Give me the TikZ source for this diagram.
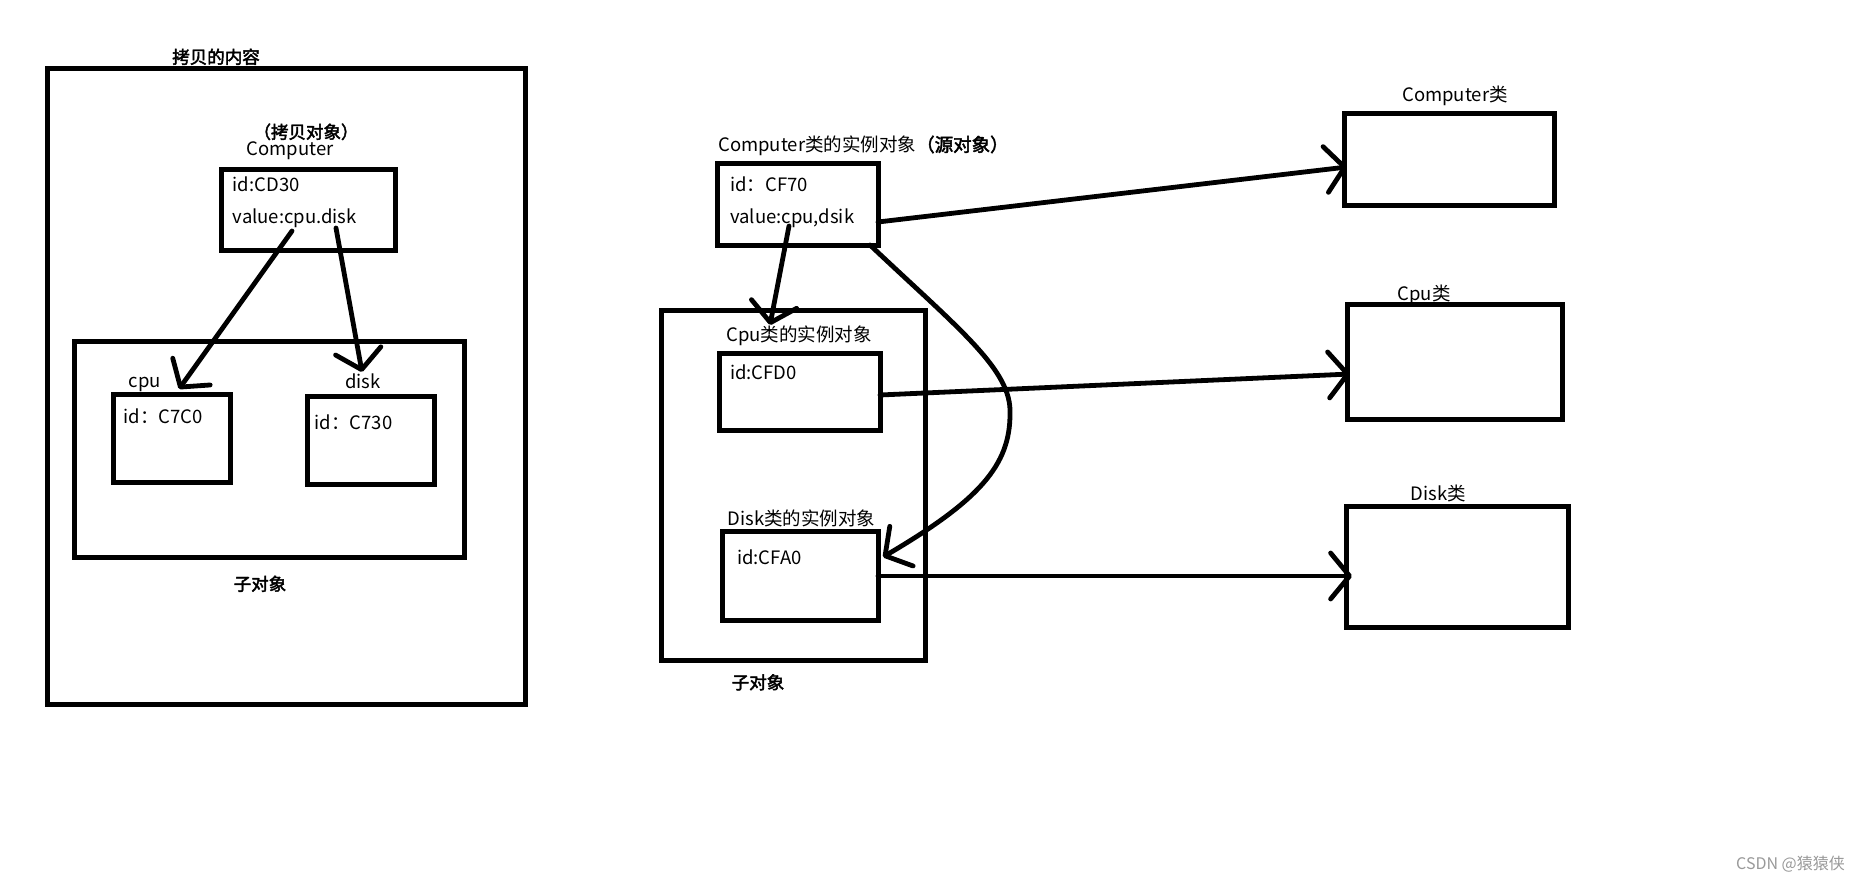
\documentclass[tikz,border=0pt]{standalone}
\usepackage{fontspec}
\setmainfont{Noto Sans CJK SC}[AutoFakeBold=2.5]
\usetikzlibrary{arrows.meta}
\tikzset{
  box/.style={draw, line width=5pt, inner sep=0pt},
  arr/.style={line width=4.8pt, line cap=round, -{Straight Barb[length=19pt,width=46pt,round]}},
  lbl/.style={inner sep=0pt, font=\fontsize{18.5}{20}\selectfont},
  blbl/.style={inner sep=0pt, font=\fontsize{17.5}{20}\selectfont\bfseries},
}
\begin{document}
\begin{tikzpicture}[x=1pt,y=-1pt]
\useasboundingbox (0,0) rectangle (1861,883);
% ---------- left: copy ----------
\node[box, minimum width=478pt, minimum height=635pt] (outer) at (286,386.5) {};
\node[blbl, anchor=base] (tcopy) at (216,63.5) {拷贝的内容};
\node[blbl, anchor=base] (tcopyobj) at (306,138.5) {（拷贝对象）};
\node[lbl, anchor=base] (tcomp) at (290,155) {Computer};
\node[box, minimum width=174pt, minimum height=81pt] (compL) at (308,209.5) {};
\node[lbl, anchor=base west] (idL) at (232.6,191.5) {id:CD30};
\node[lbl, anchor=base west] (valL) at (232.6,223.5) {value:cpu.disk};
\node[box, minimum width=390pt, minimum height=216pt] (childL) at (269,449) {};
\node[lbl, anchor=base] (tcpuL) at (144.8,387) {cpu};
\node[box, minimum width=117pt, minimum height=88pt] (cpuL) at (171.5,438) {};
\node[lbl, anchor=base west] (idcpuL) at (123.4,423) {id：C7C0};
\node[lbl, anchor=base] (tdiskL) at (363,388) {disk};
\node[box, minimum width=127pt, minimum height=88pt] (diskL) at (370.5,440) {};
\node[lbl, anchor=base west] (iddiskL) at (314.5,429) {id：C730};
\node[blbl, anchor=base] (tsubL) at (260,590.5) {子对象};
\coordinate (l1s) at (292,231);
\coordinate (l1e) at (179,389);
\coordinate (l2s) at (336,228);
\coordinate (l2e) at (362,372);
\draw[arr] (l1s) -- (l1e);
\draw[arr] (l2s) -- (l2e);
% ---------- right: source ----------
\node[lbl, anchor=base west] (tsrc) at (718,151.5) {Computer类的实例对象\textbf{（源对象）}};
\node[box, minimum width=161pt, minimum height=82pt] (src) at (797.5,204) {};
\node[lbl, anchor=base west] (idsrc) at (730,191.5) {id：CF70};
\node[lbl, anchor=base west] (valsrc) at (730,223.5) {value:cpu,dsik};
\node[box, minimum width=264pt, minimum height=350pt] (childR) at (793,485) {};
\node[lbl, anchor=base west] (tcpuR) at (726,341) {Cpu类的实例对象};
\node[box, minimum width=161pt, minimum height=77pt] (cpuR) at (799.5,391.5) {};
\node[lbl, anchor=base west] (idcpuR) at (730,379) {id:CFD0};
\node[lbl, anchor=base west] (tdiskR) at (727.6,525) {Disk类的实例对象};
\node[box, minimum width=156pt, minimum height=89pt] (diskR) at (800,575.5) {};
\node[lbl, anchor=base west] (iddiskR) at (737,564) {id:CFA0};
\node[blbl, anchor=base] (tsubR) at (758,689) {子对象};
% ---------- classes ----------
\node[lbl, anchor=base] (tcls1) at (1455,101.5) {Computer类};
\node[box, minimum width=210pt, minimum height=92pt] (clsComp) at (1449,159) {};
\node[lbl, anchor=base] (tcls2) at (1424,300.5) {Cpu类};
\node[box, minimum width=215pt, minimum height=115pt] (clsCpu) at (1454.5,361.5) {};
\node[lbl, anchor=base] (tcls3) at (1438.5,500) {Disk类};
\node[box, minimum width=222pt, minimum height=121pt] (clsDisk) at (1457,566.5) {};
% ---------- right arrows ----------
\coordinate (r0s) at (878,222);
\coordinate (r0e) at (1347,167);
\coordinate (r1s) at (789,226);
\coordinate (r1e) at (770,325);
\coordinate (r2s) at (870,245);
\coordinate (r2m) at (1010,414);
\coordinate (r2e) at (883,557);
\coordinate (r3s) at (880,395);
\coordinate (r3e) at (1350,374);
\coordinate (r4s) at (878,576);
\coordinate (r4e) at (1352,576);
\draw[arr] (r0s) -- (r0e);
\draw[arr] (r1s) -- (r1e);
\draw[arr] (r2s) .. controls (960,330) and (1012,370) .. (r2m)
               .. controls (1010,465) and (980,500) .. (r2e);
\draw[arr] (r3s) -- (r3e);
\draw[arr] (r4s) -- (r4e);
% ---------- watermark ----------
\node[inner sep=0pt, anchor=base east, text=black!40, font=\fontsize{16}{18}\selectfont] (wm) at (1845,869) {CSDN @猿猿侠};
\end{tikzpicture}
\end{document}
